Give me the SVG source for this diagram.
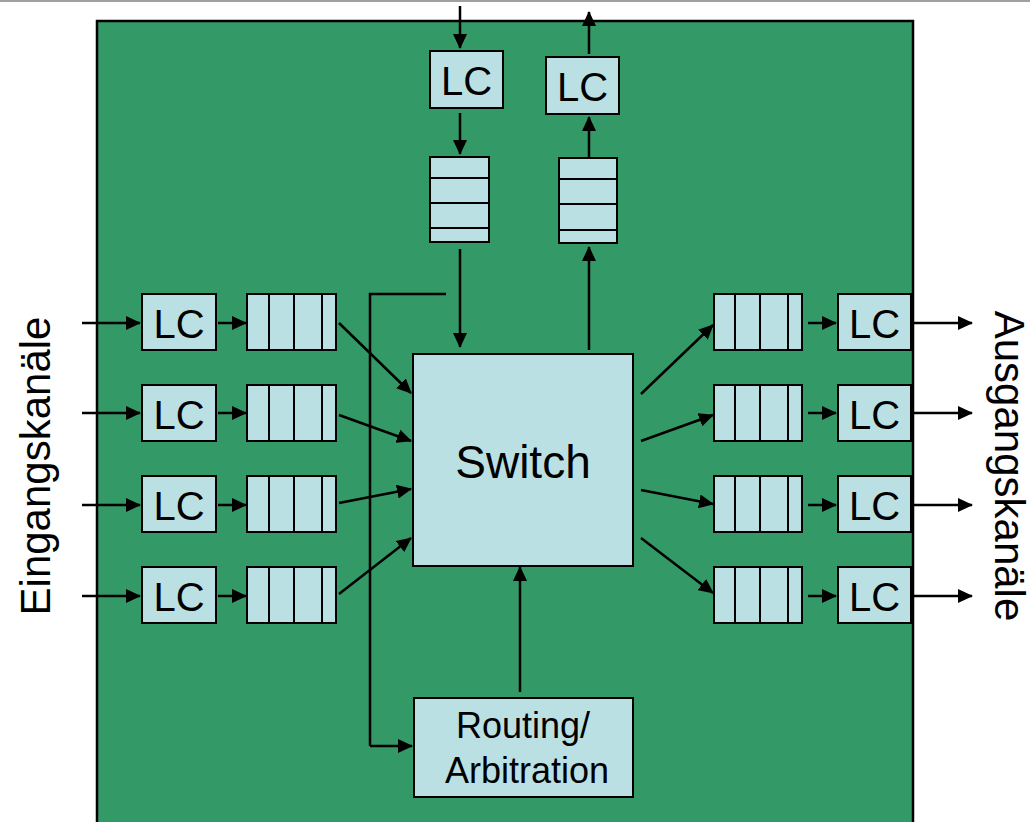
<svg xmlns="http://www.w3.org/2000/svg" width="1030" height="822" viewBox="0 0 1030 822">
<defs>
<marker id="ah" markerWidth="15" markerHeight="14" refX="14" refY="7" orient="auto" markerUnits="userSpaceOnUse">
<path d="M0,0 L15,7 L0,14 z" fill="#000"/>
</marker>
<style>
.box{fill:#BBE0E3;stroke:#000;stroke-width:2}
.ln{stroke:#000;stroke-width:2}
.c{stroke:#000;stroke-width:2.5;fill:none}
.a{stroke:#000;stroke-width:2.5;fill:none;marker-end:url(#ah)}
.t{font-family:"Liberation Sans",Arial,sans-serif;fill:#000;text-anchor:middle}
.lc{font-size:40px}
</style>
</defs>
<rect x="0" y="0" width="1030" height="822" fill="#fff"/>
<rect x="0" y="0" width="1030" height="2" fill="#a0a0a0"/>
<rect id="board" x="97" y="21" width="816" height="820" fill="#339966" stroke="#000" stroke-width="2.5"/>

<g id="connectors">
<line class="a" x1="460" y1="6" x2="460" y2="48"/>
<line class="a" x1="460" y1="113" x2="460" y2="154"/>
<line class="a" x1="460" y1="249" x2="460" y2="347"/>
<polyline class="c" points="446,294 370,294 370,746"/>
<line class="a" x1="370" y1="746" x2="412" y2="746"/>
<line class="a" x1="589" y1="54" x2="589" y2="12"/>
<line class="a" x1="589" y1="160" x2="589" y2="117"/>
<line class="a" x1="589" y1="350" x2="589" y2="247"/>
<line class="a" x1="520" y1="692" x2="520" y2="567"/>

<line class="a" x1="82" y1="323" x2="140" y2="323"/>
<line class="a" x1="82" y1="413" x2="140" y2="413"/>
<line class="a" x1="82" y1="505" x2="140" y2="505"/>
<line class="a" x1="82" y1="596" x2="140" y2="596"/>
<line class="a" x1="218" y1="323" x2="246" y2="323"/>
<line class="a" x1="218" y1="413" x2="246" y2="413"/>
<line class="a" x1="218" y1="505" x2="246" y2="505"/>
<line class="a" x1="218" y1="596" x2="246" y2="596"/>

<line class="a" x1="339" y1="323" x2="411" y2="393"/>
<line class="a" x1="339" y1="415" x2="411" y2="441"/>
<line class="a" x1="339" y1="503" x2="411" y2="489"/>
<line class="a" x1="339" y1="594" x2="411" y2="538"/>

<line class="a" x1="641" y1="394" x2="713" y2="325"/>
<line class="a" x1="641" y1="441" x2="713" y2="415"/>
<line class="a" x1="641" y1="490" x2="713" y2="504"/>
<line class="a" x1="641" y1="538" x2="713" y2="593"/>

<line class="a" x1="808" y1="323" x2="836" y2="323"/>
<line class="a" x1="808" y1="413" x2="836" y2="413"/>
<line class="a" x1="808" y1="505" x2="836" y2="505"/>
<line class="a" x1="808" y1="596" x2="836" y2="596"/>
<line class="a" x1="911" y1="323" x2="972" y2="323"/>
<line class="a" x1="911" y1="413" x2="972" y2="413"/>
<line class="a" x1="911" y1="505" x2="972" y2="505"/>
<line class="a" x1="911" y1="596" x2="972" y2="596"/>
</g>

<g id="lc-top-in"><rect class="box" x="430" y="51" width="73" height="57"/><text class="t lc" x="466.5" y="95">LC</text></g>
<g id="lc-top-out"><rect class="box" x="546" y="57" width="73" height="57"/><text class="t lc" x="582.5" y="101">LC</text></g>
<g id="q-top-in"><rect class="box" x="430" y="157" width="59" height="85"/><line class="ln" x1="430" y1="178" x2="489" y2="178"/><line class="ln" x1="430" y1="203" x2="489" y2="203"/><line class="ln" x1="430" y1="228" x2="489" y2="228"/></g>
<g id="q-top-out"><rect class="box" x="559" y="158" width="58" height="85"/><line class="ln" x1="559" y1="179" x2="617" y2="179"/><line class="ln" x1="559" y1="204" x2="617" y2="204"/><line class="ln" x1="559" y1="230" x2="617" y2="230"/></g>

<g id="lc-in-1"><rect class="box" x="142" y="294" width="74" height="56"/><text class="t lc" x="179" y="338">LC</text></g>
<g id="lc-in-2"><rect class="box" x="142" y="385" width="74" height="56"/><text class="t lc" x="179" y="429">LC</text></g>
<g id="lc-in-3"><rect class="box" x="142" y="476" width="74" height="56"/><text class="t lc" x="179" y="520">LC</text></g>
<g id="lc-in-4"><rect class="box" x="142" y="567" width="74" height="56"/><text class="t lc" x="179" y="611">LC</text></g>

<g id="q-in-1"><rect class="box" x="247" y="294" width="89" height="56"/><line class="ln" x1="269" y1="294" x2="269" y2="350"/><line class="ln" x1="294" y1="294" x2="294" y2="350"/><line class="ln" x1="322" y1="294" x2="322" y2="350"/></g>
<g id="q-in-2"><rect class="box" x="247" y="385" width="89" height="56"/><line class="ln" x1="269" y1="385" x2="269" y2="441"/><line class="ln" x1="294" y1="385" x2="294" y2="441"/><line class="ln" x1="322" y1="385" x2="322" y2="441"/></g>
<g id="q-in-3"><rect class="box" x="247" y="476" width="89" height="56"/><line class="ln" x1="269" y1="476" x2="269" y2="532"/><line class="ln" x1="294" y1="476" x2="294" y2="532"/><line class="ln" x1="322" y1="476" x2="322" y2="532"/></g>
<g id="q-in-4"><rect class="box" x="247" y="567" width="89" height="56"/><line class="ln" x1="269" y1="567" x2="269" y2="623"/><line class="ln" x1="294" y1="567" x2="294" y2="623"/><line class="ln" x1="322" y1="567" x2="322" y2="623"/></g>

<g id="q-out-1"><rect class="box" x="714" y="294" width="88" height="56"/><line class="ln" x1="735" y1="294" x2="735" y2="350"/><line class="ln" x1="760" y1="294" x2="760" y2="350"/><line class="ln" x1="788" y1="294" x2="788" y2="350"/></g>
<g id="q-out-2"><rect class="box" x="714" y="385" width="88" height="56"/><line class="ln" x1="735" y1="385" x2="735" y2="441"/><line class="ln" x1="760" y1="385" x2="760" y2="441"/><line class="ln" x1="788" y1="385" x2="788" y2="441"/></g>
<g id="q-out-3"><rect class="box" x="714" y="476" width="88" height="56"/><line class="ln" x1="735" y1="476" x2="735" y2="532"/><line class="ln" x1="760" y1="476" x2="760" y2="532"/><line class="ln" x1="788" y1="476" x2="788" y2="532"/></g>
<g id="q-out-4"><rect class="box" x="714" y="567" width="88" height="56"/><line class="ln" x1="735" y1="567" x2="735" y2="623"/><line class="ln" x1="760" y1="567" x2="760" y2="623"/><line class="ln" x1="788" y1="567" x2="788" y2="623"/></g>

<g id="lc-out-1"><rect class="box" x="838" y="294" width="73" height="56"/><text class="t lc" x="874.5" y="338">LC</text></g>
<g id="lc-out-2"><rect class="box" x="838" y="385" width="73" height="56"/><text class="t lc" x="874.5" y="429">LC</text></g>
<g id="lc-out-3"><rect class="box" x="838" y="476" width="73" height="56"/><text class="t lc" x="874.5" y="520">LC</text></g>
<g id="lc-out-4"><rect class="box" x="838" y="567" width="73" height="56"/><text class="t lc" x="874.5" y="611">LC</text></g>

<g id="switch"><rect class="box" x="413" y="354" width="220" height="212"/><text class="t" x="523" y="478" font-size="46">Switch</text></g>
<g id="routing"><rect class="box" x="414" y="698" width="219" height="99"/><text class="t" x="523" y="738" font-size="36">Routing/</text><text class="t" x="527" y="783" font-size="36">Arbitration</text></g>

<text class="t" font-size="42" transform="translate(50,466) rotate(-90)">Eingangskanäle</text>
<text class="t" font-size="42" transform="translate(995,466) rotate(90)">Ausgangskanäle</text>
</svg>
